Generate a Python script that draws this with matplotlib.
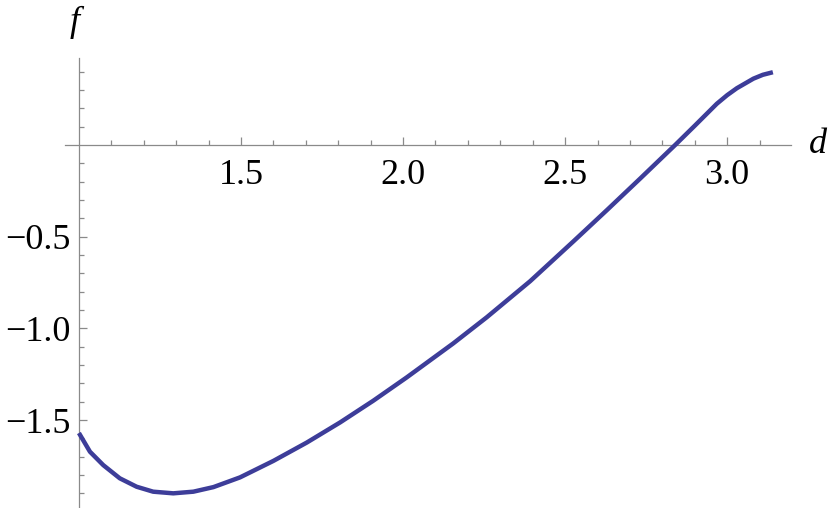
import matplotlib
matplotlib.use('Agg')
import matplotlib.pyplot as plt
from matplotlib.ticker import FixedLocator, FixedFormatter

# Values
d_vals = [1.000, 1.034, 1.075, 1.126, 1.178, 1.229, 1.291, 1.353, 1.415,
          1.497, 1.600, 1.703, 1.806, 1.908, 2.011, 2.155, 2.258, 2.392,
          2.526, 2.629, 2.731, 2.840, 2.901, 2.968, 3.000, 3.030, 3.081,
          3.110, 3.141]
f_vals = [-1.571, -1.673, -1.746, -1.818, -1.864, -1.891, -1.900, -1.891, -1.866,
          -1.813, -1.723, -1.623, -1.513, -1.395, -1.268, -1.082, -0.940, -0.743,
          -0.525, -0.355, -0.184, 0.001, 0.107, 0.225, 0.272, 0.310, 0.362,
          0.383, 0.397]

x_major = [1.5, 2.0, 2.5, 3.0]
x_labels = ['1.5', '2.0', '2.5', '3.0']
y_major = [-1.5, -1.0, -0.5]
y_labels = ['\u22121.5', '\u22121.0', '\u22120.5']

line_color = '#3d3d99'
axis_color = '#8a8a8a'

plt.rcParams['font.family'] = ['Liberation Serif', 'DejaVu Serif']

fig = plt.figure(figsize=(8.3, 5.08), dpi=100)
ax = fig.add_axes([65 / 830, 0.0, 725.7 / 830, 449.7 / 508])

ax.plot(d_vals, f_vals, color=line_color, lw=3.2, solid_capstyle='butt',
        solid_joinstyle='round', zorder=3)

ax.set_xlim(0.957, 3.196)
ax.set_ylim(-1.98, 0.473)

# Mathematica-style axes crossing at (1, 0)
for side in ['top', 'right']:
    ax.spines[side].set_visible(False)
ax.spines['left'].set_position(('data', 1.0))
ax.spines['bottom'].set_position(('data', 0.0))
for side in ['left', 'bottom']:
    ax.spines[side].set_color(axis_color)
    ax.spines[side].set_linewidth(0.9)

x_minor = [round(1.1 + 0.1 * i, 1) for i in range(21)]
x_minor = [v for v in x_minor if v not in x_major]
y_minor = [round(-1.9 + 0.1 * i, 1) for i in range(24)]
y_minor = [v for v in y_minor if v not in y_major and v != 0.0]

ax.xaxis.set_major_locator(FixedLocator(x_major))
ax.xaxis.set_major_formatter(FixedFormatter(x_labels))
ax.xaxis.set_minor_locator(FixedLocator(x_minor))
ax.yaxis.set_major_locator(FixedLocator(y_major))
ax.yaxis.set_major_formatter(FixedFormatter(y_labels))
ax.yaxis.set_minor_locator(FixedLocator(y_minor))

ax.tick_params(which='both', direction='in', color=axis_color, width=0.9,
               labelsize=26, labelcolor='black')
ax.tick_params(which='major', length=6)
ax.tick_params(which='minor', length=3.3)
ax.tick_params(axis='x', which='major', pad=10)
ax.tick_params(axis='y', which='major', pad=6)

fig.text(75 / 830, 1 - 22 / 508, 'f', fontsize=26, style='italic',
         ha='center', va='center')
fig.text(818 / 830, 1 - 145 / 508, 'd', fontsize=26, style='italic',
         ha='center', va='center')

fig.savefig('out.png', dpi=100)
